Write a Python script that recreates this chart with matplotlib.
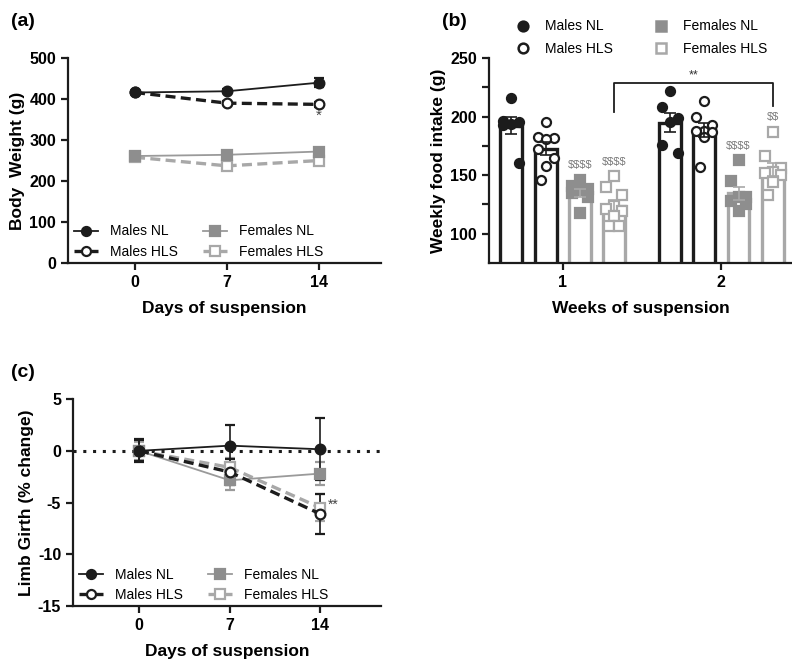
import numpy as np
import matplotlib
matplotlib.use("Agg")
import matplotlib.pyplot as plt
from matplotlib.lines import Line2D

plt.rcParams["font.family"] = ["Liberation Sans", "DejaVu Sans"]
plt.rcParams["axes.unicode_minus"] = False

BLACK = "#1c1c1c"
GREY = "#9a9a9a"
GREY_FILL = "#8e8e8e"
GREY_OPEN = "#a8a8a8"

groups = ["Males NL", "Males HLS", "Females NL", "Females HLS"]

# (a) body weight
days = [0, 7, 14]
bw_males_nl = [416, 419, 440]
bw_males_hls = [416, 390, 387]
bw_females_nl = [261, 264, 272]
bw_females_hls = [258, 237, 250]
bw_err_males_nl = [4, 5, 11]
bw_err_males_hls = [4, 5, 6]
bw_err_females_nl = [3, 4, 5]
bw_err_females_hls = [3, 4, 4]

# (b) weekly food intake, individual animals
weeks = [1, 2]
food_w1 = {
    "Males NL": [216, 196, 195, 194, 193, 160],
    "Males HLS": [195, 183, 182, 181, 172, 165, 158, 146],
    "Females NL": [146, 141, 138, 137, 135, 131, 118],
    "Females HLS": [149, 140, 133, 124, 121, 119, 115, 107, 107],
}
food_w2 = {
    "Males NL": [222, 208, 199, 195, 176, 169],
    "Males HLS": [213, 200, 193, 188, 188, 187, 183, 157],
    "Females NL": [163, 145, 131, 131, 128, 125, 119],
    "Females HLS": [187, 166, 156, 153, 152, 150, 144, 133],
}
food_marks_w1 = ["", "", "$$$$", "$$$$"]
food_marks_w2 = ["", "", "$$$$", "$$"]

# (c) limb girth
lg_males_nl = [0.0, 0.5, 0.15]
lg_males_hls = [0.0, -2.05, -6.1]
lg_females_nl = [0.0, -2.85, -2.2]
lg_females_hls = [0.0, -1.6, -5.5]
lg_err_males_nl = [1.1, 2.0, 3.0]
lg_err_males_hls = [1.0, 1.3, 1.95]
lg_err_females_nl = [1.0, 0.95, 1.1]
lg_err_females_hls = [0.9, 0.9, 1.3]

STYLES = {
    "Males NL": dict(color=BLACK, ls="-", lw=1.3, marker="o", mfc=BLACK, mec=BLACK),
    "Males HLS": dict(color=BLACK, ls=(0, (3, 1.6)), lw=2.4, marker="o", mfc="white", mec=BLACK),
    "Females NL": dict(color=GREY, ls="-", lw=1.3, marker="s", mfc=GREY_FILL, mec=GREY_FILL),
    "Females HLS": dict(color=GREY_OPEN, ls=(0, (3, 1.6)), lw=2.4, marker="s", mfc="white", mec=GREY_OPEN),
}
DRAW_ORDER = ["Females HLS", "Females NL", "Males HLS", "Males NL"]


def style_axes(ax):
    for side in ["top", "right"]:
        ax.spines[side].set_visible(False)
    for side in ["left", "bottom"]:
        ax.spines[side].set_linewidth(1.6)
        ax.spines[side].set_color(BLACK)
    ax.tick_params(axis="both", width=1.6, length=5, labelsize=11.5, color=BLACK)
    for lab in ax.get_xticklabels() + ax.get_yticklabels():
        lab.set_fontweight("bold")


def line_legend(ax, anchor):
    handles = []
    for g in groups:
        st = STYLES[g]
        handles.append(Line2D([], [], color=st["color"], ls=st["ls"], lw=st["lw"],
                              marker=st["marker"], mfc=st["mfc"], mec=st["mec"],
                              ms=6.5, mew=1.6))
    ax.legend(handles, groups, ncol=2, frameon=False, loc="lower left",
              bbox_to_anchor=anchor, fontsize=10, handlelength=1.7,
              columnspacing=1.8, labelspacing=0.45, handletextpad=0.9)


def plot_lines(ax, series, errs):
    for g in DRAW_ORDER:
        i = groups.index(g)
        st = STYLES[g]
        ax.errorbar(days, series[i], yerr=errs[i], color=st["color"], ls=st["ls"],
                    lw=st["lw"], marker=st["marker"], mfc=st["mfc"], mec=st["mec"],
                    ms=7, mew=1.6, ecolor=st["color"], elinewidth=1.2,
                    capsize=3.5, capthick=1.2)


fig = plt.figure(figsize=(7.92, 6.59), dpi=100)

# ---------- (a)
ax_a = fig.add_axes([0.0859, 0.6009, 0.395, 0.311])
plot_lines(ax_a, [bw_males_nl, bw_males_hls, bw_females_nl, bw_females_hls],
           [bw_err_males_nl, bw_err_males_hls, bw_err_females_nl, bw_err_females_hls])
ax_a.set_xlim(-5.1, 18.7)
ax_a.set_ylim(0, 500)
ax_a.set_xticks(days)
ax_a.set_yticks([0, 100, 200, 300, 400, 500])
ax_a.text(14, 358, "*", ha="center", va="center", fontsize=11, color="#444444")
ax_a.set_ylabel("Body  Weight (g)", fontsize=12.5, fontweight="bold", labelpad=3)
ax_a.set_xlabel("Days of suspension", fontsize=12.5, fontweight="bold", labelpad=8)
style_axes(ax_a)
line_legend(ax_a, (-0.02, -0.04))

# ---------- (b)
ax_b = fig.add_axes([0.6174, 0.6009, 0.3826, 0.311])
offsets = [-0.324, -0.108, 0.108, 0.324]
bar_w = 0.138
jitter = [0.0, -0.05, 0.05, 0.0, -0.05, 0.05, 0.0, -0.03, 0.03]
for wk, data, marks in [(1, food_w1, food_marks_w1), (2, food_w2, food_marks_w2)]:
    for g, off, mk in zip(groups, offsets, marks):
        vals = np.array(data[g], dtype=float)
        mean = vals.mean()
        sem = vals.std(ddof=1) / np.sqrt(len(vals))
        x = wk + off
        female = g.startswith("Females")
        edge = GREY_OPEN if female else BLACK
        ax_b.bar(x, mean, width=bar_w, bottom=0, color="white", edgecolor=edge,
                 linewidth=2.4, zorder=2)
        st = STYLES[g]
        xs = x + np.array(jitter[:len(vals)])
        ax_b.plot(xs, vals, ls="none", marker=st["marker"], mfc=st["mfc"],
                  mec=st["mec"], ms=6.5, mew=1.6, zorder=3)
        ax_b.errorbar(x, mean, yerr=sem, color=edge, lw=1.2, capsize=4,
                      capthick=1.2, zorder=4)
        if mk:
            ax_b.text(x, max(vals) + 8, mk, ha="center", va="bottom",
                      fontsize=8, color="#777777", parse_math=False)

x_l = 1 + offsets[3]
x_r = 2 + offsets[3]
ax_b.plot([x_l, x_l, x_r, x_r], [204, 229, 229, 209], color=BLACK, lw=1.3, zorder=5)
ax_b.text((x_l + x_r) / 2, 230, "**", ha="center", va="bottom", fontsize=9, color="#333333")
ax_b.set_xlim(0.535, 2.445)
ax_b.set_ylim(75, 250)
ax_b.set_xticks(weeks)
ax_b.set_yticks([100, 150, 200, 250])
ax_b.set_yticks([125, 175, 225], minor=True)
ax_b.tick_params(axis="y", which="minor", width=1.6, length=5, color=BLACK)
ax_b.set_ylabel("Weekly food intake (g)", fontsize=12.5, fontweight="bold", labelpad=3)
ax_b.set_xlabel("Weeks of suspension", fontsize=12.5, fontweight="bold", labelpad=8)
style_axes(ax_b)
hb = []
for g in groups:
    st = STYLES[g]
    hb.append(Line2D([], [], ls="none", marker=st["marker"], mfc=st["mfc"],
                     mec=st["mec"], ms=7, mew=1.8))
ax_b.legend(hb, groups, ncol=2, frameon=False, loc="lower left",
            bbox_to_anchor=(0.043, 0.95), fontsize=10, handlelength=1.2,
            columnspacing=2.85, labelspacing=0.6, handletextpad=1.0)

# ---------- (c)
ax_c = fig.add_axes([0.0922, 0.0804, 0.389, 0.314])
ax_c.axhline(0, color=BLACK, ls=(0, (1, 2.2)), lw=2.2, zorder=1)
plot_lines(ax_c, [lg_males_nl, lg_males_hls, lg_females_nl, lg_females_hls],
           [lg_err_males_nl, lg_err_males_hls, lg_err_females_nl, lg_err_females_hls])
ax_c.text(15.0, -5.2, "**", ha="center", va="center", fontsize=10, color="#444444")
ax_c.set_xlim(-5.1, 18.7)
ax_c.set_ylim(-15, 5)
ax_c.set_xticks(days)
ax_c.set_yticks([-15, -10, -5, 0, 5])
ax_c.set_ylabel("Limb Girth (% change)", fontsize=12.5, fontweight="bold", labelpad=3)
ax_c.set_xlabel("Days of suspension", fontsize=12.5, fontweight="bold", labelpad=8)
style_axes(ax_c)
line_legend(ax_c, (-0.02, -0.04))

# panel labels
fig.text(0.014, 0.967, "(a)", fontsize=14, fontweight="bold", va="center")
fig.text(0.558, 0.967, "(b)", fontsize=14, fontweight="bold", va="center")
fig.text(0.014, 0.434, "(c)", fontsize=14, fontweight="bold", va="center")

fig.savefig("out.png", dpi=100)
